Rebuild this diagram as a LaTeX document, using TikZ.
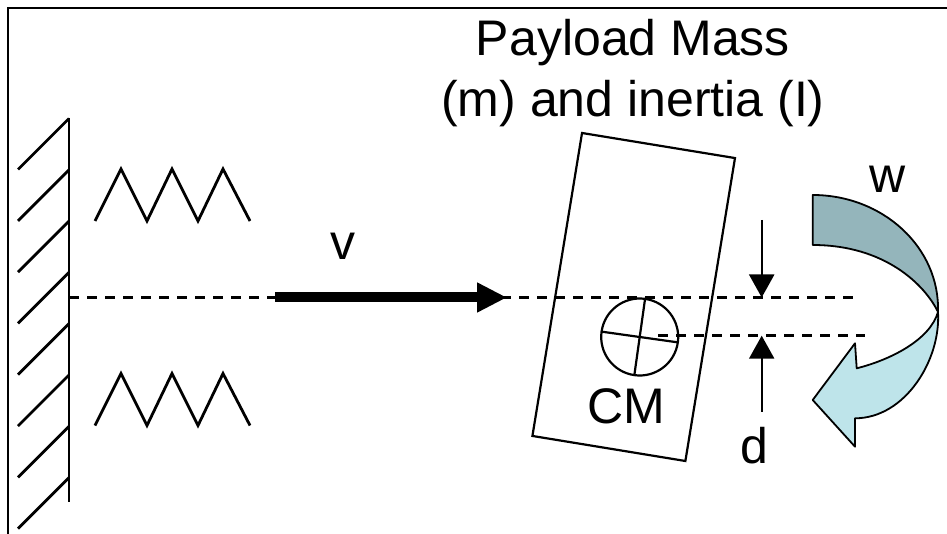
\documentclass[tikz,border=0pt]{standalone}
\usepackage{fontspec}
\setmainfont{Liberation Sans}
\usetikzlibrary{arrows.meta}
\definecolor{spinback}{RGB}{148,181,187}
\definecolor{spinfront}{RGB}{190,228,234}

\begin{document}
\begin{tikzpicture}[x=1pt,y=-1pt,line width=2.8pt,
    every node/.style={inner sep=0pt, outer sep=0pt, font=\fontsize{50}{60}\selectfont},
    axisline/.style={line width=2.6pt, dash pattern=on 10pt off 8pt},
    dimarrow/.style={line width=2.2pt, -{Triangle[length=23pt,width=25pt]}},
    spinarrow/.style={line width=1.8pt, line join=round}]
    \useasboundingbox (0,0) rectangle (947,534);
    \draw[line width=2.6pt] (8,534) -- (8,8) -- (947,8);

    \draw (69,118) -- (69,502);
    \foreach \k in {0,...,7}
        \draw (69,118.5+51.3*\k) -- ++(-51,51);

    \foreach \y in {0,204.5}
        \draw[shift={(0,\y)}] (95,221) -- (121,169) -- (147,221) -- (172,169) -- (198,221) -- (223,169) -- (250,221);

    \coordinate (axis) at (69,297.5);
    \coordinate (axisend) at (858,297.5);
    \coordinate (vstart) at (275,297.5);
    \coordinate (vtip) at (507,297.5);
    \coordinate (cmline) at (658,335.7);
    \coordinate (cmlineend) at (865,335.7);
    \coordinate (dtop) at (761.7,220);
    \coordinate (dbot) at (761.7,411.7);

    \draw[axisline] (axis) -- (axisend);
    \draw[axisline] (cmline) -- (cmlineend);
    \draw[line width=10pt, -{Triangle[length=30pt,width=28pt]}] (vstart) -- (vtip);

    \node[draw, line width=2.2pt, minimum width=155pt, minimum height=307pt, rotate=-9.3] (payload) at (633.7,297) {};
    \node[draw, line width=2.2pt, circle, minimum size=77pt, rotate=-8] (cm) at (639.7,337) {};
    \draw[line width=2.2pt] (cm.north) -- (cm.south);
    \draw[line width=2.2pt] (cm.west) -- (cm.east);

    \draw[dimarrow] (dtop) -- (dtop |- axisend);
    \draw[dimarrow] (dbot) -- (dbot |- cmlineend);

    \draw[spinarrow, fill=spinback] (812.7,195) .. controls (882.8,195) and (940,247.4) .. (938,312)
        .. controls (925,285) and (885,245) .. (812.7,245) -- cycle;
    \draw[spinarrow, fill=spinfront] (938,312) .. controls (941,360) and (905,418.3) .. (855,418.3)
        -- (855,446.7) -- (812.7,400) -- (855,343.3) -- (856.7,368.3)
        .. controls (890,360) and (930,340) .. (938,312) -- cycle;

    \node[anchor=base] (masslabel) at (633,56) {Payload Mass};
    \node[anchor=base] (inertialabel) at (633,117) {(m) and inertia (I)};
    \node[anchor=base] (vlabel) at (343,260) {v};
    \node[anchor=base] (wlabel) at (888,193) {w};
    \node[anchor=base] (cmlabel) at (626,423.3) {CM};
    \node[anchor=base] (dlabel) at (754,463) {d};
\end{tikzpicture}
\end{document}
